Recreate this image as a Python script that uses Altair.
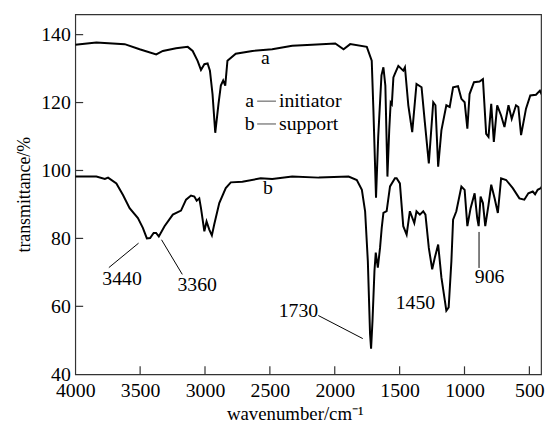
import altair as alt
import pandas as pd

# ---- data ----
wn_a = [4000, 3837, 3619, 3504, 3376, 3325, 3223, 3133, 3095, 3057, 3031, 3005, 2980, 2962, 2942, 2921,
        2896, 2878, 2860, 2844, 2827, 2763, 2635, 2482, 2328, 2175, 1996, 1932, 1881, 1753, 1715, 1702,
        1682, 1665, 1640, 1625, 1610, 1594, 1580, 1569, 1560, 1548, 1536, 1510, 1472, 1459, 1433, 1403,
        1370, 1331, 1306, 1275, 1241, 1224, 1203, 1178, 1140, 1114, 1088, 1050, 1024, 999, 978, 961,
        927, 884, 858, 833, 815, 794, 774, 748, 718, 692, 661, 636, 603, 585, 564, 526, 493, 449, 419, 400]
t_a = [137.0, 137.7, 137.2, 135.7, 134.2, 135.2, 136.0, 136.4, 135.2, 132.3, 129.6, 131.3, 131.5, 129.4,
       122.5, 111.1, 119.6, 125.0, 126.5, 125.0, 132.3, 134.4, 135.2, 135.7, 136.7, 137.0, 137.4, 135.7,
       137.2, 136.4, 132.3, 117.7, 92.0, 110.0, 128.0, 130.4, 125.0, 98.2, 112.0, 120.0, 119.5, 127.4,
       128.5, 130.8, 129.4, 130.4, 119.2, 111.3, 125.5, 124.5, 114.3, 102.1, 120.1, 119.2, 101.1, 111.8,
       119.2, 118.7, 124.5, 124.8, 121.1, 120.1, 112.3, 122.5, 126.0, 126.2, 126.9, 110.8, 109.9, 119.6,
       108.4, 119.2, 116.2, 112.8, 119.2, 115.2, 119.2, 118.7, 110.4, 118.2, 122.1, 122.3, 123.5, 122.0]

wn_b = [4000, 3837, 3772, 3747, 3683, 3632, 3581, 3517, 3479, 3448, 3423, 3396, 3377, 3356, 3312, 3248,
        3185, 3146, 3108, 3082, 3064, 3044, 3031, 3005, 2988, 2967, 2947, 2929, 2890, 2840, 2801, 2712,
        2571, 2482, 2328, 2123, 1893, 1830, 1791, 1766, 1745, 1728, 1720, 1709, 1694, 1684, 1668, 1651,
        1638, 1625, 1600, 1574, 1536, 1523, 1498, 1472, 1446, 1421, 1387, 1370, 1344, 1318, 1301, 1275,
        1249, 1229, 1203, 1178, 1140, 1122, 1101, 1088, 1063, 1024, 999, 978, 953, 922, 902, 891, 876,
        858, 840, 815, 794, 768, 743, 718, 679, 628, 577, 539, 508, 474, 456, 436, 411, 400]
t_b = [98.2, 98.2, 97.5, 97.9, 96.2, 92.8, 88.9, 86.0, 83.1, 80.0, 80.1, 81.6, 81.6, 80.6, 83.6, 87.0,
       88.2, 91.4, 92.6, 92.3, 91.1, 91.8, 88.9, 82.1, 85.0, 82.6, 80.9, 84.1, 90.4, 94.8, 96.5, 96.7,
       97.7, 97.5, 98.2, 97.9, 98.2, 97.2, 94.3, 88.0, 73.3, 51.9, 47.5, 55.8, 70.4, 75.8, 71.4, 77.2,
       83.1, 87.5, 88.0, 95.3, 97.7, 97.7, 96.2, 83.6, 81.1, 88.0, 84.5, 88.0, 87.0, 88.0, 87.0, 77.2,
       70.9, 74.3, 78.2, 68.5, 58.7, 59.7, 73.3, 85.5, 88.0, 95.3, 94.3, 83.6, 88.9, 93.3, 86.0, 83.6,
       92.3, 90.4, 83.6, 89.9, 95.8, 91.8, 87.5, 97.7, 97.2, 94.8, 91.8, 91.4, 93.3, 93.8, 93.0, 94.3,
       94.8, 95.6]

x_ticks = [4000, 3500, 3000, 2500, 2000, 1500, 1000, 500]
y_ticks = [40, 60, 80, 100, 120, 140]

# peak annotations: text, text position, leader line
ann_text = ["3440", "3360", "1730", "1450", "906"]
ann_wn = [3639, 3060, 2280, 1378, 806]
ann_t = [68.0, 66.2, 58.7, 61.0, 68.5]

lead_wn = [3512, 3335, 2127, 888]
lead_t = [78.6, 79.6, 57.3, 81.9]
lead_wn2 = [3741, 3175, 1784, 888]
lead_t2 = [71.4, 69.4, 50.5, 71.3]

# curve labels and key
curve_lbl = ["a", "b"]
curve_lbl_wn = [2534, 2514]
curve_lbl_t = [133.0, 94.7]

key_letter = ["a", "b"]
key_name = ["initiator", "support"]
key_t = [120.4, 113.7]
key_letter_wn = 2656
key_line_wn = 2598
key_line_wn2 = 2453
key_name_wn = 2430

FONT = "Liberation Serif"
W, H = 471, 364

# ---- tables ----
df_line = pd.concat([
    pd.DataFrame({"wn": wn_a, "T": t_a, "s": "a"}),
    pd.DataFrame({"wn": wn_b, "T": t_b, "s": "b"}),
])
df_xt = pd.DataFrame({"wn": x_ticks[1:]})
df_yt = pd.DataFrame({"T": y_ticks[1:]})
df_ann = pd.DataFrame({"wn": ann_wn, "T": ann_t, "txt": ann_text})
df_lead = pd.DataFrame({"wn": lead_wn, "T": lead_t, "wn2": lead_wn2, "T2": lead_t2})
df_clbl = pd.DataFrame({"wn": curve_lbl_wn, "T": curve_lbl_t, "txt": curve_lbl})
df_key = pd.DataFrame({"T": key_t, "letter": key_letter, "name": key_name,
                       "wl": [key_letter_wn] * 2, "w1": [key_line_wn] * 2,
                       "w2": [key_line_wn2] * 2, "wt": [key_name_wn] * 2})

xscale = alt.Scale(domain=[410, 4000], reverse=True, nice=False, zero=False)
yscale = alt.Scale(domain=[40, 146], nice=False, zero=False)

xaxis = alt.Axis(values=x_ticks, ticks=False, domain=False, grid=False, labelFlush=False,
                 labelOverlap=False, labelFont=FONT, labelFontSize=20, labelColor="black",
                 labelPadding=7, format="d", title="wavenumber/cm⁻¹", titleFont=FONT,
                 titleFontSize=19, titleFontWeight="normal", titleColor="black",
                 titleX=222, titleY=46, titleBaseline="alphabetic", titleAlign="center")
yaxis = alt.Axis(values=y_ticks, ticks=False, domain=False, grid=False, labelFlush=False,
                 labelOverlap=False, labelFont=FONT, labelFontSize=20, labelColor="black",
                 labelPadding=5, format="d", title="transmittance/%", titleFont=FONT,
                 titleFontSize=18, titleFontWeight="normal", titleColor="black",
                 titleX=-51, titleY=H / 2, titleAngle=-90, titleBaseline="middle",
                 titleAlign="center")

X = alt.X("wn:Q", scale=xscale, axis=xaxis)
Y = alt.Y("T:Q", scale=yscale, axis=yaxis)

lines = alt.Chart(df_line).mark_line(color="black", strokeWidth=2, clip=True).encode(
    x=X, y=Y, detail="s:N")

xt = alt.Chart(df_xt).mark_rule(color="#333", strokeWidth=1.2).encode(
    x=X, y=alt.value(H), y2=alt.value(H - 8))
yt = alt.Chart(df_yt).mark_rule(color="#333", strokeWidth=1.2).encode(
    y=Y, x=alt.value(0), x2=alt.value(8))

leads = alt.Chart(df_lead).mark_rule(color="black", strokeWidth=1).encode(
    x=X, y=Y, x2="wn2:Q", y2="T2:Q")

ann = alt.Chart(df_ann).mark_text(font=FONT, fontSize=20, color="black",
                                  baseline="middle", align="center").encode(x=X, y=Y, text="txt:N")
clbl = alt.Chart(df_clbl).mark_text(font=FONT, fontSize=20, color="black",
                                    baseline="middle", align="center").encode(x=X, y=Y, text="txt:N")

key_l = alt.Chart(df_key).mark_text(font=FONT, fontSize=20, color="black",
                                    baseline="middle", align="center").encode(
    x=alt.X("wl:Q", scale=xscale, axis=xaxis), y=Y, text="letter:N")
key_r = alt.Chart(df_key).mark_rule(color="#888", strokeWidth=1.5).encode(
    x=alt.X("w1:Q", scale=xscale, axis=xaxis), x2="w2:Q", y=Y)
key_n = alt.Chart(df_key).mark_text(font=FONT, fontSize=20, color="black",
                                    baseline="middle", align="left").encode(
    x=alt.X("wt:Q", scale=xscale, axis=xaxis), y=Y, text="name:N")

chart = alt.layer(lines, xt, yt, leads, ann, clbl, key_l, key_r, key_n).properties(
    width=W, height=H,
    padding={"left": 68, "top": 4, "right": 5, "bottom": 50},
    autosize=alt.AutoSizeParams(type="none"),
).configure_view(stroke="#333", strokeWidth=1.2)

chart.save("out.html", embed_options={"renderer": "svg", "actions": False})
